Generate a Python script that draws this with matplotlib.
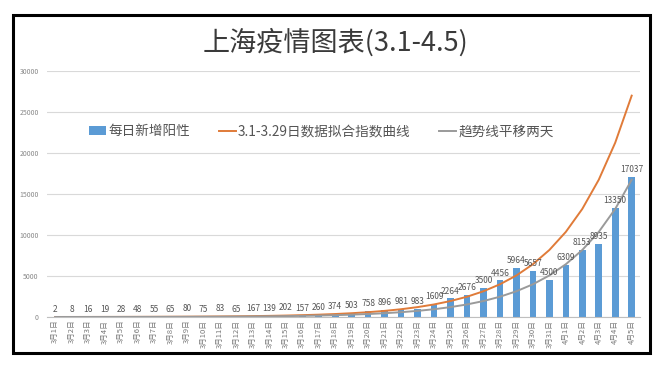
import matplotlib
matplotlib.use("Agg")
import matplotlib.pyplot as plt
from matplotlib.patches import Rectangle

plt.rcParams["font.family"] = ["Noto Sans CJK SC", "DejaVu Sans"]

# 日期标签 (3月1日 - 4月5日)
dates = [f"3月{d}日" for d in range(1, 32)] + [f"4月{d}日" for d in range(1, 6)]

# 每日新增阳性
daily_cases = [2, 8, 16, 19, 28, 48, 55, 65, 80, 75, 83, 65, 167, 139, 202, 157,
               260, 374, 503, 758, 896, 981, 983, 1609, 2264, 2676, 3500, 4456,
               5964, 5657, 4500, 6309, 8153, 8935, 13350, 17037]

# 3.1-3.29 拟合指数曲线
fit_curve = [6, 8, 10, 13, 16, 21, 26, 34, 43, 54, 69, 87, 111, 141, 179, 227,
             288, 366, 464, 590, 749, 951, 1208, 1534, 1948, 2474, 3142, 3990,
             5067, 6434, 8172, 10378, 13180, 16738, 21260, 27000]

# 趋势线平移两天
shifted_curve = [4, 5, 6, 8, 10, 13, 16, 21, 26, 34, 43, 54, 69, 87, 111, 141,
                 179, 227, 288, 366, 464, 590, 749, 951, 1208, 1534, 1948, 2474,
                 3142, 3990, 5067, 6434, 8172, 10378, 13180, 16738]

fig = plt.figure(figsize=(6.7, 3.72), dpi=100)
ax = fig.add_axes([0.0701, 0.1478, 0.885, 0.6612])

x = list(range(len(dates)))
bars = ax.bar(x, daily_cases, width=0.4, color="#5B9BD5", label="每日新增阳性", zorder=2)
fit_line, = ax.plot(x, fit_curve, color="#E07B39", linewidth=1.4,
                    label="3.1-3.29日数据拟合指数曲线", zorder=3)
shift_line, = ax.plot(x, shifted_curve, color="#9A9A9A", linewidth=1.4,
                      label="趋势线平移两天", zorder=3)

for xi, v in zip(x, daily_cases):
    ax.text(xi, v + 350, str(v), ha="center", va="bottom", fontsize=6, color="#555555", zorder=4)

ax.set_xlim(-0.5, len(dates) - 0.5)
ax.set_ylim(0, 30000)
ax.set_yticks(range(0, 30001, 5000))
ax.yaxis.grid(True, color="#D9D9D9", linewidth=0.8, zorder=0)
ax.set_axisbelow(True)
ax.set_xticks(x)
ax.set_xticklabels(dates, rotation=90, fontsize=5.5, color="#777777")
ax.tick_params(axis="y", labelsize=5, labelcolor="#888888", length=0, pad=6)
ax.tick_params(axis="x", length=0, pad=2)
for s in ["top", "right", "left"]:
    ax.spines[s].set_visible(False)
ax.spines["bottom"].set_color("#BFBFBF")

fig.text(0.5, 0.885, "上海疫情图表(3.1-4.5)", ha="center", va="center",
         fontsize=19.5, color="#3A3A3A")

ax.legend(handles=[bars, fit_line, shift_line], loc="center",
          bbox_to_anchor=(0.463, 0.755), ncol=3, frameon=False,
          fontsize=9.8, handlelength=1.25, handletextpad=0.15, columnspacing=2.1,
          labelcolor="#555555")

fig.patches.append(Rectangle((13 / 670, 1 - 353 / 372), 637 / 670, 338 / 372,
                             transform=fig.transFigure, fill=False,
                             edgecolor="black", linewidth=2.2))

fig.savefig("out.png", dpi=100)
